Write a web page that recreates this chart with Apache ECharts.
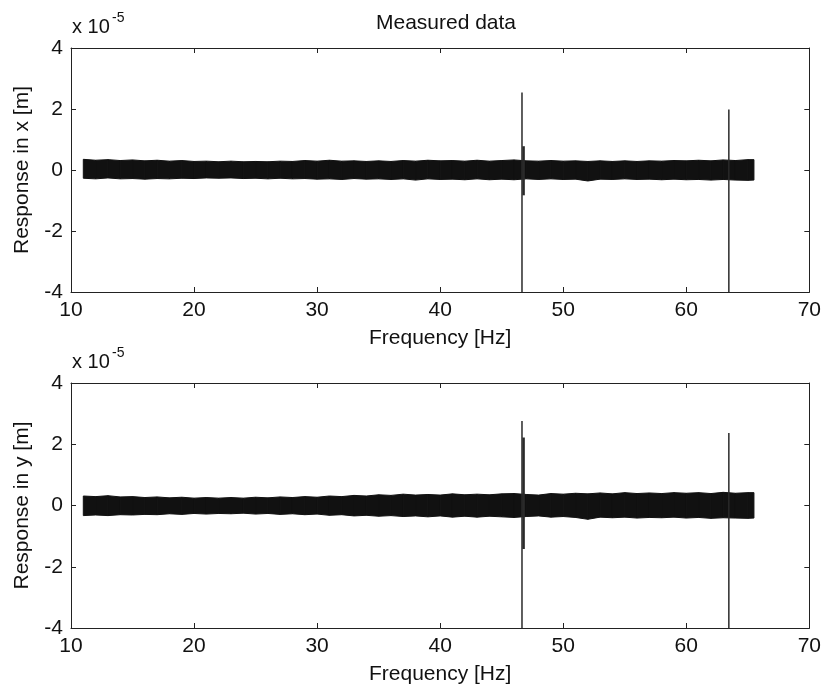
<!DOCTYPE html>
<html>
<head>
<meta charset="utf-8">
<script src="https://cdn.jsdelivr.net/npm/echarts@6/dist/echarts.min.js"></script>
<style>
  html, body { margin: 0; background: #fff; }
  #main { width: 824px; height: 693px; }
</style>
</head>
<body>
<div id="main"></div>
<script>
// frequency grid of the noise band envelope (Hz)
const freq = [11, 12, 13, 14, 15, 16, 17, 18, 19, 20,
  21, 22, 23, 24, 25, 26, 27, 28, 29, 30,
  31, 32, 33, 34, 35, 36, 37, 38, 39, 40,
  41, 42, 43, 44, 45, 46, 47, 48, 49, 50,
  51, 52, 53, 54, 55, 56, 57, 58, 59, 60,
  61, 62, 63, 64, 65, 65.5]

// response in x, upper / lower envelope (x 1e-5 m)
const xUpper = [0.35, 0.32, 0.34, 0.31, 0.33, 0.30, 0.32, 0.29, 0.31, 0.28,
  0.29, 0.27, 0.29, 0.27, 0.28, 0.27, 0.29, 0.28, 0.31, 0.29,
  0.32, 0.29, 0.30, 0.28, 0.30, 0.28, 0.31, 0.29, 0.32, 0.30,
  0.31, 0.29, 0.32, 0.29, 0.31, 0.33, 0.30, 0.29, 0.31, 0.29,
  0.30, 0.28, 0.30, 0.28, 0.30, 0.28, 0.30, 0.29, 0.31, 0.30,
  0.32, 0.30, 0.33, 0.31, 0.34, 0.34]
const xLower = [-0.27, -0.29, -0.26, -0.29, -0.28, -0.30, -0.28, -0.29, -0.27, -0.28,
  -0.26, -0.27, -0.26, -0.28, -0.27, -0.29, -0.27, -0.29, -0.28, -0.30,
  -0.29, -0.31, -0.28, -0.30, -0.29, -0.31, -0.29, -0.33, -0.29, -0.31,
  -0.30, -0.32, -0.29, -0.32, -0.30, -0.32, -0.29, -0.31, -0.29, -0.31,
  -0.30, -0.36, -0.30, -0.31, -0.29, -0.31, -0.30, -0.32, -0.30, -0.32,
  -0.31, -0.33, -0.31, -0.33, -0.34, -0.33]

// response in y, upper / lower envelope (x 1e-5 m)
const yUpper = [0.31, 0.29, 0.32, 0.28, 0.29, 0.26, 0.28, 0.25, 0.27, 0.24,
  0.26, 0.24, 0.26, 0.24, 0.27, 0.25, 0.28, 0.26, 0.29, 0.27,
  0.31, 0.29, 0.33, 0.31, 0.35, 0.33, 0.37, 0.34, 0.36, 0.34,
  0.38, 0.35, 0.37, 0.35, 0.38, 0.39, 0.36, 0.34, 0.39, 0.37,
  0.40, 0.38, 0.41, 0.38, 0.42, 0.39, 0.41, 0.39, 0.42, 0.40,
  0.42, 0.39, 0.43, 0.40, 0.42, 0.42]
const yLower = [-0.33, -0.31, -0.33, -0.30, -0.31, -0.29, -0.30, -0.27, -0.29, -0.26,
  -0.28, -0.26, -0.27, -0.25, -0.28, -0.26, -0.29, -0.27, -0.30, -0.28,
  -0.32, -0.30, -0.34, -0.32, -0.35, -0.33, -0.36, -0.34, -0.37, -0.34,
  -0.38, -0.35, -0.38, -0.35, -0.37, -0.39, -0.36, -0.34, -0.38, -0.36,
  -0.39, -0.45, -0.38, -0.40, -0.38, -0.41, -0.39, -0.40, -0.38, -0.41,
  -0.39, -0.42, -0.40, -0.41, -0.42, -0.41]

// resonance spikes
const xSpikeFreq = [46.65, 46.78, 63.46]
const xSpikeTop = [2.54, 0.78, 1.98]
const xSpikeBottom = [-4, -0.83, -4]
const ySpikeFreq = [46.65, 46.78, 63.46]
const ySpikeTop = [2.76, 2.22, 2.37]
const ySpikeBottom = [-4, -1.42, -4]

const xTicks = [10, 70, 10]   // min, max, interval
const yTicks = [-4, 4, 2]

const FONT = '"Liberation Sans", Arial, Helvetica, sans-serif'
const INK = '#111'
const spikeWidth = [1.5, 2.5, 1.5]

const chart = echarts.init(document.getElementById('main'))

const grids = [
  { left: 71, right: 13, top: 48, height: 244 },
  { left: 71, right: 13, top: 383, height: 245 }
]

function axisBits () {
  return {
    axisLine: { onZero: false, lineStyle: { color: '#222', width: 1 } },
    axisTick: { inside: true, length: 5, lineStyle: { color: '#222' } },
    splitLine: { show: false }
  }
}

function xAxes (gi) {
  return [
    Object.assign({
      type: 'value', gridIndex: gi, position: 'bottom',
      min: xTicks[0], max: xTicks[1], interval: xTicks[2],
      name: 'Frequency [Hz]', nameLocation: 'middle', nameGap: 36,
      nameTextStyle: { fontFamily: FONT, fontSize: 21, color: INK },
      axisLabel: { fontFamily: FONT, fontSize: 21, color: INK, margin: 8, showMinLabel: true, showMaxLabel: true }
    }, axisBits()),
    Object.assign({
      type: 'value', gridIndex: gi, position: 'top',
      min: xTicks[0], max: xTicks[1], interval: xTicks[2],
      axisLabel: { show: false }
    }, axisBits())
  ]
}

function yAxes (gi, name) {
  return [
    Object.assign({
      type: 'value', gridIndex: gi, position: 'left',
      min: yTicks[0], max: yTicks[1], interval: yTicks[2],
      name: name, nameLocation: 'middle', nameGap: 38,
      nameTextStyle: { fontFamily: FONT, fontSize: 21, color: INK },
      axisLabel: { fontFamily: FONT, fontSize: 21, color: INK, margin: 8 }
    }, axisBits()),
    Object.assign({
      type: 'value', gridIndex: gi, position: 'right',
      min: yTicks[0], max: yTicks[1], interval: yTicks[2],
      axisLabel: { show: false }
    }, axisBits())
  ]
}

function bandSeries (gi, lo, hi) {
  const data = freq.map((f, i) => [f, lo[i], hi[i]])
  return {
    type: 'custom', xAxisIndex: gi * 2, yAxisIndex: gi * 2,
    data: data, encode: { x: 0, y: [1, 2] }, clip: true, silent: true,
    renderItem (params, api) {
      const i = params.dataIndex
      if (i >= data.length - 1) return null
      const a = data[i]
      const b = data[i + 1]
      const pts = [api.coord([a[0], a[2]]), api.coord([b[0], b[2]]), api.coord([b[0], b[1]]), api.coord([a[0], a[1]])]
      return { type: 'polygon', shape: { points: pts }, style: { fill: INK, stroke: INK, lineWidth: 1 } }
    }
  }
}

function spikeSeries (gi, fs, bottoms, tops) {
  const data = fs.map((f, i) => [f, bottoms[i], tops[i]])
  return {
    type: 'custom', xAxisIndex: gi * 2, yAxisIndex: gi * 2,
    data: data, encode: { x: 0, y: [1, 2] }, clip: true, silent: true, z: 3,
    renderItem (params, api) {
      const p0 = api.coord([api.value(0), api.value(1)])
      const p1 = api.coord([api.value(0), api.value(2)])
      return {
        type: 'line',
        shape: { x1: p0[0], y1: p0[1], x2: p1[0], y2: p1[1] },
        style: { stroke: '#2a2a2a', lineWidth: spikeWidth[params.dataIndex] }
      }
    }
  }
}

function expLabel (axisTop) {
  return [
    { type: 'text', left: 72, top: axisTop - 31, style: { text: 'x 10', font: '20px ' + FONT, fill: INK } },
    { type: 'text', left: 112, top: axisTop - 37, style: { text: '-5', font: '14px ' + FONT, fill: INK } }
  ]
}

const option = {
  backgroundColor: '#fff',
  animation: false,
  title: {
    text: 'Measured data', left: 441, top: 8, textAlign: 'center',
    textStyle: { fontFamily: FONT, fontSize: 21, fontWeight: 'normal', color: INK }
  },
  grid: grids,
  xAxis: xAxes(0).concat(xAxes(1)),
  yAxis: yAxes(0, 'Response in x [m]').concat(yAxes(1, 'Response in y [m]')),
  graphic: expLabel(48).concat(expLabel(383)),
  series: [
    bandSeries(0, xLower, xUpper),
    spikeSeries(0, xSpikeFreq, xSpikeBottom, xSpikeTop),
    bandSeries(1, yLower, yUpper),
    spikeSeries(1, ySpikeFreq, ySpikeBottom, ySpikeTop)
  ]
}

chart.setOption(option)
</script>
</body>
</html>
